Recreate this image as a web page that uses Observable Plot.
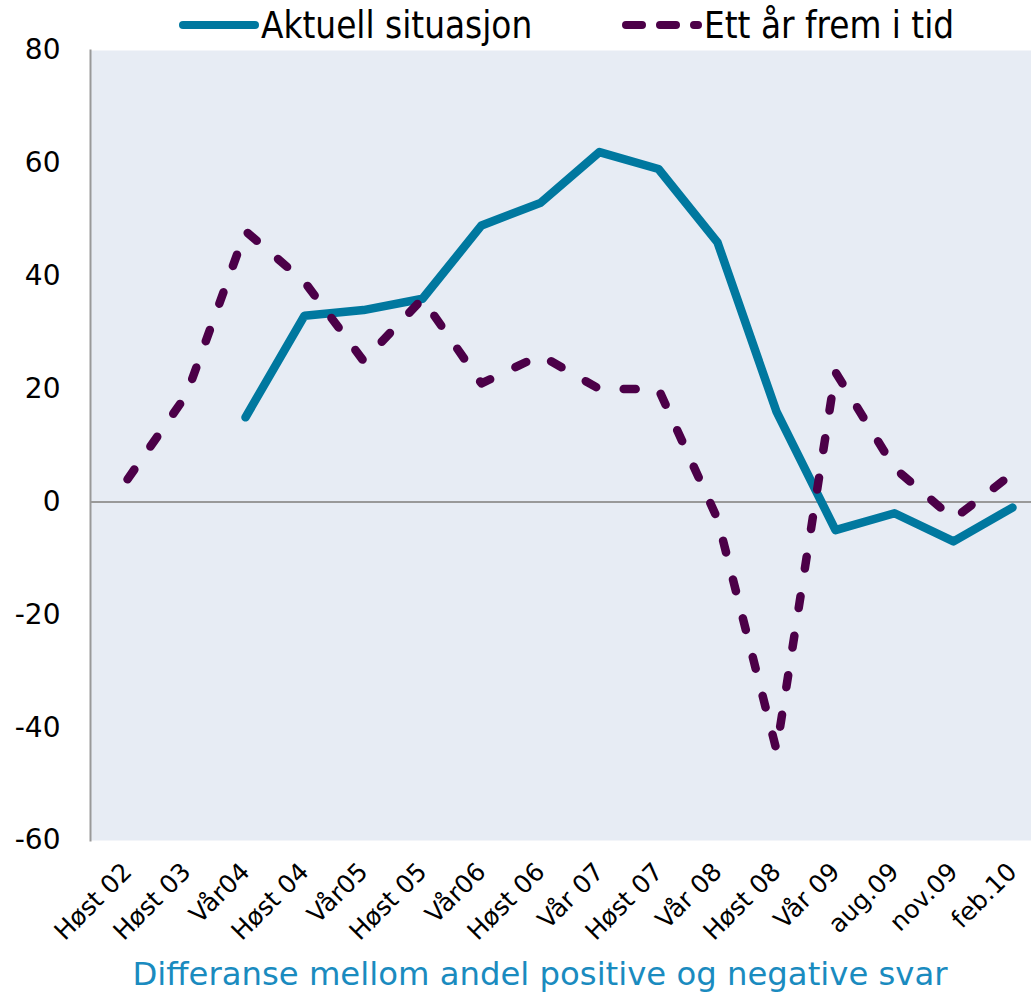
<!DOCTYPE html>
<html><head><meta charset="utf-8">
<script src="https://cdn.jsdelivr.net/npm/d3@7"></script>
<script src="https://cdn.jsdelivr.net/npm/@observablehq/plot@0.6"></script>
<style>
body{margin:0;background:#fff;}
#wrap{position:relative;width:1031px;height:1003px;overflow:hidden;}
#chart{position:absolute;left:0;top:40px;}
.leg{position:absolute;top:0;height:50px;display:flex;align-items:center;font-family:"Liberation Sans Narrow","DejaVu Sans Condensed",sans-serif;font-size:36.5px;color:#000;white-space:nowrap;}
.leg svg{margin-right:2px;}
#caption{position:absolute;left:0;top:951px;width:1080px;text-align:center;font-family:"DejaVu Sans",sans-serif;font-size:32.3px;line-height:46px;color:#1a8bbf;white-space:nowrap;}
</style></head><body>
<div id="wrap">
  <div class="leg" style="left:179px"><svg width="80" height="16"><line x1="4" y1="8" x2="76" y2="8" stroke="#00789f" stroke-width="8" stroke-linecap="round"/></svg><span>Aktuell situasjon</span></div>
  <div class="leg" style="left:622px"><svg width="80" height="16"><line x1="4" y1="8" x2="76" y2="8" stroke="#4c0048" stroke-width="8" stroke-linecap="round" stroke-dasharray="16,18"/></svg><span>Ett år frem i tid</span></div>
  <div id="chart"></div>
  <div id="caption">Differanse mellom andel positive og negative svar</div>
</div>
<script>
const periods = ["Høst 02","Høst 03","Vår04","Høst 04","Vår05","Høst 05","Vår06","Høst 06","Vår 07","Høst 07","Vår 08","Høst 08","Vår 09","aug.09","nov.09","feb.10"];
const aktuell = [null,null,15,33,34,36,49,53,62,59,46,16,-5,-2,-7,-1];
const ettAr = [4,19,48,39,25,36,21,26,20,20,-3,-44,23,6,-3,5];
const yTicks = [-60,-40,-20,0,20,40,60,80];

const dataA = periods.map((p,i)=>({p, v: aktuell[i]})).filter(d=>d.v!=null);
const dataE = periods.map((p,i)=>({p, v: ettAr[i]}));

const chart = Plot.plot({
  width: 1031,
  height: 915,
  marginLeft: 90,
  marginRight: 0,
  marginTop: 10,
  marginBottom: 115,
  style: {fontFamily: "DejaVu Sans, sans-serif", fontSize: "25px", color: "#000", background: "transparent", overflow: "visible"},
  x: {type: "point", domain: periods, range: [120, 1018], padding: 0, label: null},
  y: {domain: [-60, 80], label: null},
  marks: [
    Plot.frame({fill: "#e7ecf4", stroke: null}),
    Plot.frame({anchor: "left", stroke: "#999", strokeWidth: 2}),
    Plot.ruleY([0], {stroke: "#999", strokeWidth: 2}),
    Plot.axisY({ticks: yTicks, tickSize: 0, tickPadding: 30, fontSize: 28, label: null, tickFormat: d => String(d)}),
    Plot.axisX({tickRotate: -45, tickSize: 0, tickPadding: 27, fontSize: 25, label: null}),
    Plot.line(dataA, {x: "p", y: "v", stroke: "#00789f", strokeWidth: 8.5, strokeLinecap: "round", strokeLinejoin: "round"}),
    Plot.line(dataE, {x: "p", y: "v", stroke: "#4c0048", strokeWidth: 8.5, strokeLinecap: "round", strokeLinejoin: "round", strokeDasharray: "12,28"})
  ]
});
document.getElementById("chart").appendChild(chart);
</script>
</body></html>
